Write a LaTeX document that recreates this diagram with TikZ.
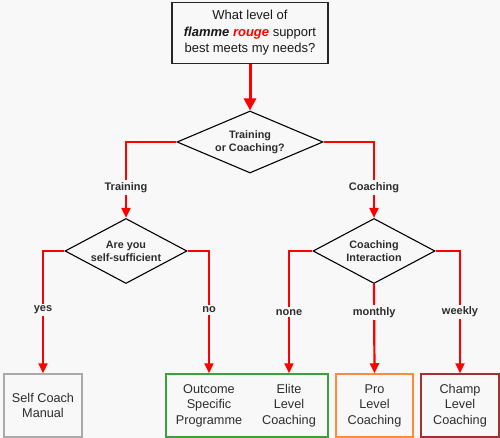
\documentclass[tikz,border=0pt]{standalone}
\usepackage{fontspec}
\setmainfont{Liberation Sans}
\usetikzlibrary{shapes.geometric,arrows.meta}
\definecolor{bgc}{RGB}{248,248,248}
\definecolor{txt}{RGB}{45,45,45}
\definecolor{flred}{RGB}{255,0,0}
\definecolor{grayb}{RGB}{170,170,170}
\definecolor{greenb}{RGB}{60,160,60}
\definecolor{orangeb}{RGB}{255,140,60}
\definecolor{darkredb}{RGB}{160,50,50}
\tikzset{
  x=1pt, y=-1pt,
  redline/.style={draw=flred, line width=2.2pt, -{Triangle[width=9pt,length=10pt]}},
  bigred/.style={draw=flred, line width=3pt, -{Triangle[width=12pt,length=12pt]}},
  decision/.style={diamond, draw=black, line width=1.1pt, fill=bgc, inner sep=-2pt,
    align=center, text=txt, font=\fontsize{10.8}{13}\selectfont\bfseries},
  resultbox/.style={rectangle, line width=1.5pt, fill=bgc, inner sep=0pt,
    minimum height=63pt, align=center, text=txt, font=\fontsize{12.7}{15.5}\selectfont},
  plaintext/.style={inner sep=0pt, align=center, text=txt, font=\fontsize{12.7}{15.5}\selectfont},
  lbl/.style={fill=bgc, inner sep=2pt, text=txt, font=\fontsize{11}{12}\selectfont\bfseries},
}
\begin{document}
\begin{tikzpicture}
\useasboundingbox (0,0) rectangle (500,438);
\fill[bgc] (0,0) rectangle (500,438);

\node[rectangle, draw=black!85, line width=1.4pt, fill=bgc, minimum width=156pt, minimum height=61pt,
  inner sep=0pt, align=center, text=black!90, font=\fontsize{13}{16.5}\selectfont] (q) at (250,33)
  {What level of\\ \textbf{\textit{flamme}} \textcolor{flred}{\textbf{\textit{rouge}}} support\\ best meets my needs?};

\node[decision, aspect=2.35, minimum width=146pt, minimum height=62pt] (d1) at (250,142) {Training\\ or Coaching?};
\node[decision, aspect=1.88, minimum width=122pt, minimum height=65pt] (d2) at (126,251) {Are you\\ self-sufficient};
\node[decision, aspect=1.88, minimum width=122pt, minimum height=65pt] (d3) at (374,251) {Coaching\\ Interaction};

\node[resultbox, draw=grayb, minimum width=78pt] (self) at (43,405.5) {Self Coach\\ Manual};
\node[resultbox, draw=greenb, minimum width=162pt] (green) at (247,405.5) {};
\node[plaintext] (outcome) at (209,405.5) {Outcome\\ Specific\\ Programme};
\node[plaintext] (elite) at (289,405.5) {Elite\\ Level\\ Coaching};
\node[resultbox, draw=orangeb, minimum width=77pt] (pro) at (374.5,405.5) {Pro\\ Level\\ Coaching};
\node[resultbox, draw=darkredb, minimum width=78pt] (champ) at (460,405.5) {Champ\\ Level\\ Coaching};

\draw[bigred] (q.south) -- (d1.north);

\draw[redline] (d1.west) -| node[lbl, pos=0.8] {Training} (d2.north);
\draw[redline] (d1.east) -| node[lbl, pos=0.8] {Coaching} (d3.north);

\draw[redline] (d2.west) -| node[lbl, pos=0.74] {yes} (self.north);
\draw[redline] (d2.east) -| node[lbl, pos=0.74] {no} (outcome |- green.north);

\draw[redline] (d3.west) -| node[lbl, pos=0.75] {none} (elite |- green.north);
\draw[redline] (d3.south) -- node[lbl, pos=0.32] {monthly} (pro.north);
\draw[redline] (d3.east) -| node[lbl, pos=0.75] {weekly} (champ.north);
\end{tikzpicture}
\end{document}
